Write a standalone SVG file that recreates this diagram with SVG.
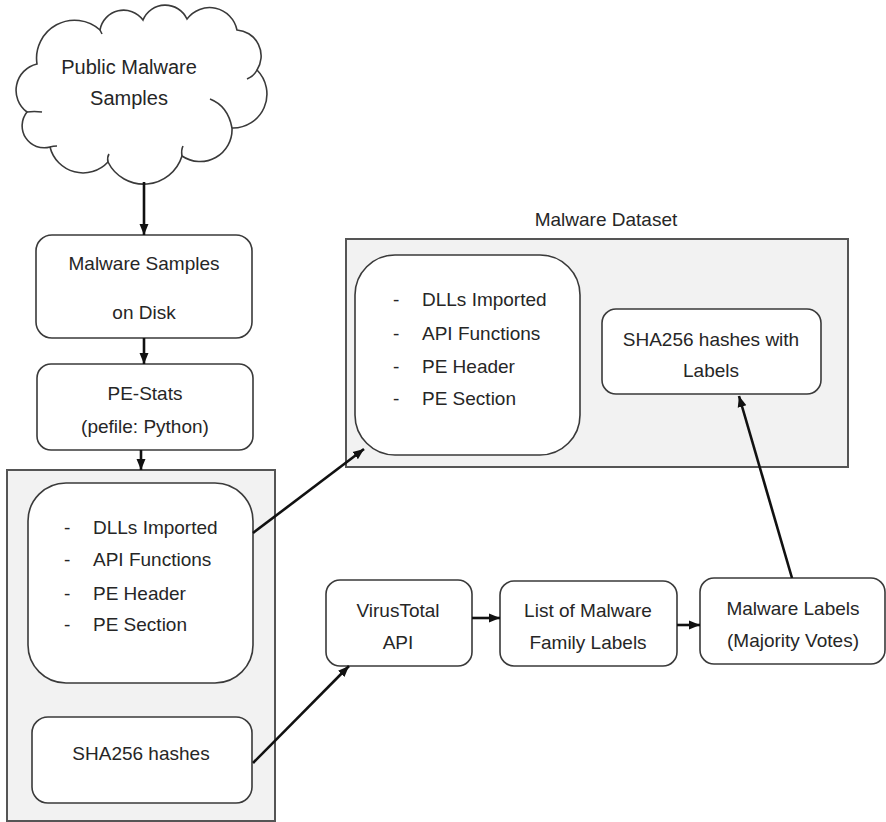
<svg xmlns="http://www.w3.org/2000/svg" width="886" height="822" viewBox="0 0 886 822">
<defs>
<style>
.bx{fill:#fff;stroke:#3a3a3a;stroke-width:1.6}
.grp{fill:#f2f2f2;stroke:#555;stroke-width:2}
.t{font-family:"Liberation Sans",Arial,sans-serif;font-size:19px;fill:#262626}
.m{text-anchor:middle}
.big{font-size:20px}
.c{fill:none;stroke:#111;stroke-width:2.6}
.cl{fill:#fff;stroke:#3a3a3a;stroke-width:1.6}
.curl{fill:none;stroke:#3a3a3a;stroke-width:1.6}
</style>
<marker id="ah" markerUnits="userSpaceOnUse" markerWidth="12" markerHeight="12" viewBox="0 0 12 12" refX="11" refY="6" orient="auto">
<path d="M0,1.5 L11,6 L0,10.5 Z" fill="#111"/>
</marker>
</defs>

<g id="cloud">
<path class="cl" d="M37,64 A38,38 0 0 1 100,30 A24,24 0 0 1 143,20 A24,24 0 0 1 187,19 A28,28 0 0 1 237,30 A26,26 0 0 1 257,70 A34,34 0 0 1 232,128 A32,32 0 0 1 182,156 A40,40 0 0 1 108,162 A34,34 0 0 1 50,147 A22,22 0 0 1 27,112 A27,27 0 0 1 37,64 Z"/>
<path class="curl" d="M210,99 Q228,106 232,128"/>
<path class="curl" d="M247,79 Q254,76 257,70"/>
<path class="curl" d="M182,156 Q181,150 183,146"/>
<path class="curl" d="M108,162 Q107,157 109,154"/>
<path class="curl" d="M50,147 Q53,146 57,146"/>
<path class="curl" d="M27,112 Q34,111 42,112"/>
<path class="curl" d="M100,30 Q101,32 102,34"/>
<text class="t m big" x="129" y="74">Public Malware</text>
<text class="t m big" x="129" y="105">Samples</text>
</g>

<g id="disk">
<rect class="bx" x="36" y="235" width="216" height="103" rx="16"/>
<text class="t m" x="144" y="270">Malware Samples</text>
<text class="t m" x="144" y="319">on Disk</text>
</g>

<g id="pestats">
<rect class="bx" x="37" y="364" width="216" height="86" rx="14"/>
<text class="t m" x="145" y="400">PE-Stats</text>
<text class="t m" x="145" y="433">(pefile: Python)</text>
</g>

<g id="features-group">
<rect class="grp" x="7" y="470" width="268" height="351"/>
</g>

<g id="features">
<rect class="bx" x="28" y="483" width="225" height="200" rx="38"/>
<text class="t" x="64" y="534">-</text><text class="t" x="93" y="534">DLLs Imported</text>
<text class="t" x="64" y="566">-</text><text class="t" x="93" y="566">API Functions</text>
<text class="t" x="64" y="600">-</text><text class="t" x="93" y="600">PE Header</text>
<text class="t" x="64" y="631">-</text><text class="t" x="93" y="631">PE Section</text>
</g>

<g id="hashes">
<rect class="bx" x="32" y="717" width="220" height="86" rx="16"/>
<text class="t m" x="141" y="760">SHA256 hashes</text>
</g>

<g id="dataset">
<text class="t m" x="606" y="226">Malware Dataset</text>
<rect class="grp" x="346" y="239" width="502" height="228"/>
</g>

<g id="dataset-features">
<rect class="bx" x="355" y="255" width="225" height="200" rx="40"/>
<text class="t" x="393" y="306">-</text><text class="t" x="422" y="306">DLLs Imported</text>
<text class="t" x="393" y="340">-</text><text class="t" x="422" y="340">API Functions</text>
<text class="t" x="393" y="373">-</text><text class="t" x="422" y="373">PE Header</text>
<text class="t" x="393" y="405">-</text><text class="t" x="422" y="405">PE Section</text>
</g>

<g id="hashes-labels">
<rect class="bx" x="602" y="309" width="219" height="85" rx="14"/>
<text class="t m" x="711" y="346">SHA256 hashes with</text>
<text class="t m" x="711" y="377">Labels</text>
</g>

<g id="virustotal">
<rect class="bx" x="326" y="580" width="146" height="86" rx="14"/>
<text class="t m" x="398" y="617">VirusTotal</text>
<text class="t m" x="398" y="649">API</text>
</g>

<g id="family-list">
<rect class="bx" x="500" y="581" width="177" height="85" rx="14"/>
<text class="t m" x="588" y="617">List of Malware</text>
<text class="t m" x="588" y="649">Family Labels</text>
</g>

<g id="malware-labels">
<rect class="bx" x="700" y="578" width="185" height="86" rx="14"/>
<text class="t m" x="793" y="615">Malware Labels</text>
<text class="t m" x="793" y="647">(Majority Votes)</text>
</g>

<g id="connectors">
<line class="c" x1="144" y1="182" x2="144" y2="235" stroke-width="3" marker-end="url(#ah)"/>
<line class="c" x1="144" y1="338" x2="144" y2="364" stroke-width="3" marker-end="url(#ah)"/>
<line class="c" x1="141" y1="450" x2="141" y2="470" marker-end="url(#ah)"/>
<line class="c" x1="253" y1="533" x2="364" y2="449" marker-end="url(#ah)"/>
<line class="c" x1="253" y1="763" x2="349" y2="666" marker-end="url(#ah)"/>
<line class="c" x1="472" y1="618" x2="500" y2="618" marker-end="url(#ah)"/>
<line class="c" x1="677" y1="625" x2="700" y2="625" marker-end="url(#ah)"/>
<line class="c" x1="792" y1="578" x2="739" y2="396" marker-end="url(#ah)"/>
</g>
</svg>
